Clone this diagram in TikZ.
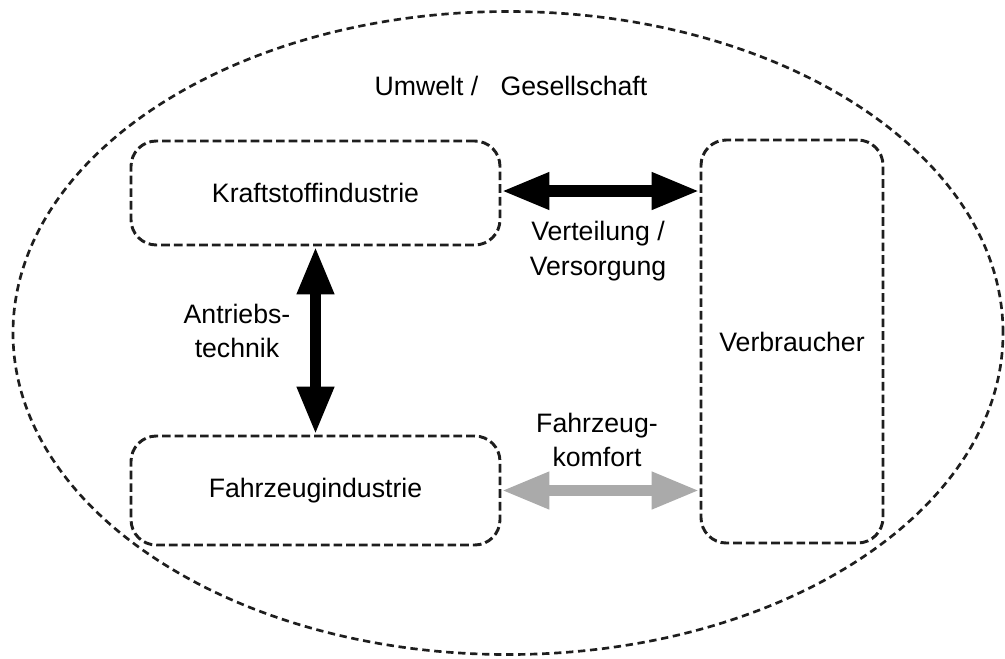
\documentclass[tikz,border=0pt]{standalone}
\usepackage{fontspec}
\setmainfont{Liberation Sans}
\usetikzlibrary{arrows.meta,shapes.geometric}
\definecolor{dashgray}{HTML}{1E1E1E}
\definecolor{softgray}{HTML}{AAAAAA}
\tikzset{
  field/.style={draw=dashgray, line width=2.2pt, dash pattern=on 6.5pt off 3pt,
    rounded corners=19pt, inner sep=0pt},
  label/.style={font=\fontsize{20}{26}\selectfont, align=center, inner sep=0pt},
  dblarrow/.style={line width=8.4pt,
    {Triangle[length=36pt,width=26pt]}-{Triangle[length=36pt,width=26pt]}},
}
\begin{document}
\begin{tikzpicture}[x=0.75pt,y=-0.75pt]
  \useasboundingbox (0,0) rectangle (1005,658);
  % outer boundary
  \node[draw=dashgray, line width=2pt, dash pattern=on 5.5pt off 3.5pt,
        ellipse, minimum width=990*0.75pt, minimum height=643*0.75pt,
        inner sep=0pt] (env) at (508,333) {};
  \node[label] (envtxt) at (511,86) {Umwelt /\ \ \ Gesellschaft};
  % actors
  \node[field, minimum width=369*0.75pt, minimum height=104*0.75pt] (kraft) at (315.5,193) {};
  \node[label] at (kraft) {Kraftstoffindustrie};
  \node[field, minimum width=369*0.75pt, minimum height=109*0.75pt] (fahr) at (315.5,490.5) {};
  \node[label] at (fahr) {Fahrzeugindustrie};
  \node[field, minimum width=182*0.75pt, minimum height=403*0.75pt] (verb) at (792,341.5) {};
  \node[label] at (verb) {Verbraucher};
  % relations
  \draw[dblarrow] (kraft.east |- 0,191) coordinate (a1) -- (verb.west |- a1);
  \draw[dblarrow] (kraft.south) -- (fahr.north);
  \draw[dblarrow, softgray] (fahr.east) -- (verb.west |- fahr.east);
  \node[label] (vers) at (598,251) {Verteilung /\\Versorgung};
  \node[label] (antr) at (237,331) {Antriebs-\\technik};
  \node[label] (komf) at (597,440) {Fahrzeug-\\komfort};
\end{tikzpicture}
\end{document}
